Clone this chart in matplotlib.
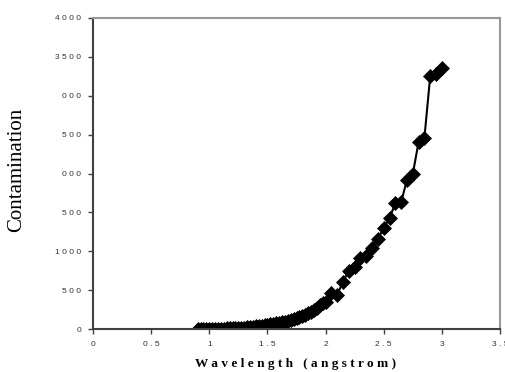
import matplotlib
matplotlib.use("Agg")
import matplotlib.pyplot as plt

# wavelength (angstrom) and contamination
wavelength = [0.9, 0.925, 0.95, 0.975, 1.0, 1.025, 1.05, 1.075, 1.1, 1.125,
              1.15, 1.175, 1.2, 1.225, 1.25, 1.275, 1.3, 1.325, 1.35, 1.375,
              1.4, 1.425, 1.45, 1.475, 1.5, 1.525, 1.55, 1.575, 1.6, 1.625,
              1.65, 1.675, 1.7, 1.725, 1.75, 1.775, 1.8, 1.825, 1.85, 1.875,
              1.9, 1.925, 1.95, 1.975, 2.0,
              2.05, 2.1, 2.15, 2.2, 2.25, 2.3, 2.35, 2.4, 2.45, 2.5,
              2.55, 2.6, 2.65, 2.7, 2.75, 2.8, 2.85, 2.9, 2.95, 3.0]
contamination = [0, 0, 1, 1, 2, 2, 3, 4, 5, 6,
                 7, 8, 10, 12, 14, 16, 19, 22, 25, 29,
                 33, 37, 42, 47, 52, 58, 64, 71, 78, 86,
                 95, 105, 115, 127, 140, 153, 167, 183, 200, 220,
                 245, 275, 305, 330, 350,
                 460, 440, 610, 750, 800, 910, 940, 1040, 1160, 1300,
                 1425, 1620, 1635, 1916, 1993, 2405, 2460, 3254, 3280, 3357]

x_ticks = [0, 0.5, 1, 1.5, 2, 2.5, 3, 3.5]
x_tick_labels = ["0", "0.5", "1", "1.5", "2", "2.5", "3", "3.5"]
y_ticks = [0, 500, 1000, 1500, 2000, 2500, 3000, 3500, 4000]
# the left digits of some labels are cut off in the original
y_tick_labels = ["0", "500", "1000", "500", "000", "500", "000", "3500", "4000"]


def spaced(s):
    return " ".join(s)


fig = plt.figure(figsize=(5.05, 3.72), dpi=100)
ax = fig.add_axes([93 / 505, 43 / 372, 407 / 505, 311 / 372])

ax.plot(wavelength, contamination, color="black", linewidth=1.5,
        marker="D", markersize=6.8, markerfacecolor="black",
        markeredgecolor="black", markeredgewidth=0.5)

ax.set_xlim(0, 3.5)
ax.set_ylim(0, 4000)
ax.set_xticks(x_ticks)
ax.set_xticklabels([spaced(t) for t in x_tick_labels],
                   fontfamily="Liberation Sans", fontsize=6, color="#333333")
ax.set_yticks(y_ticks)
ax.set_yticklabels([spaced(t) for t in y_tick_labels],
                   fontfamily="Liberation Sans", fontsize=6, color="#333333")
ax.tick_params(axis="both", direction="out", length=3.5, width=1,
               color="#404040")
ax.tick_params(axis="y", pad=5)
ax.tick_params(axis="x", pad=5)

for side in ["left", "bottom"]:
    ax.spines[side].set_color("#404040")
    ax.spines[side].set_linewidth(1.5)
for side in ["top", "right"]:
    ax.spines[side].set_color("#999999")
    ax.spines[side].set_linewidth(1.5)

fig.text(296 / 505, 1 - 364 / 372, "W a v e l e n g t h   ( a n g s t r o m )",
         ha="center", va="center", fontfamily="Liberation Serif",
         fontweight="bold", fontsize=9.5)
fig.text(17 / 505, 1 - 170 / 372, "Contamination", rotation=90,
         ha="center", va="center", fontfamily="Liberation Serif", fontsize=15)

plt.savefig("out.png", dpi=100)
plt.close()
